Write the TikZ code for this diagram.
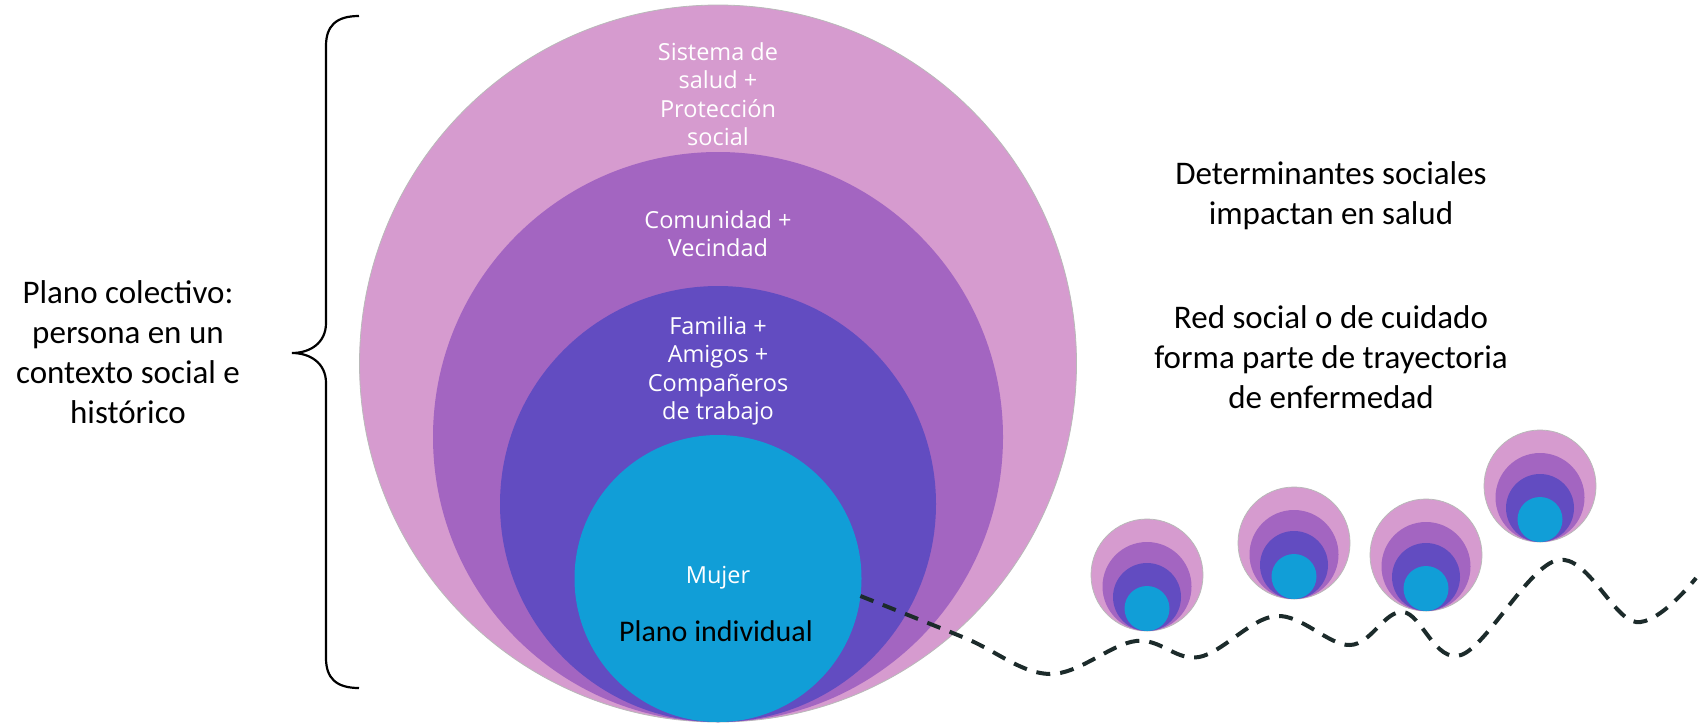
\documentclass[tikz,border=0pt]{standalone}
\usepackage{fontspec}
\setmainfont{Carlito}
\newfontfamily\circfont{Open Sans}
\definecolor{pinkA}{RGB}{214,155,207}
\definecolor{purpleB}{RGB}{163,101,193}
\definecolor{violetC}{RGB}{98,76,193}
\definecolor{cyanD}{RGB}{17,158,215}
\definecolor{dashcol}{RGB}{28,43,43}
\begin{document}
\begin{tikzpicture}[x=1pt,y=-1pt,
  ring/.style={circle, inner sep=0pt, outer sep=0pt},
  rim/.style={draw=gray!55, line width=0.8pt},
  wtext/.style={text=white, font=\circfont\fontsize{23.5}{28.5}\selectfont, align=center, inner sep=0pt},
  btext/.style={text=black, font=\fontsize{33}{40}\selectfont, align=center, inner sep=0pt},
  dashline/.style={draw=dashcol, line width=4pt, dash pattern=on 14pt off 10pt},
  bracestyle/.style={draw=black, line width=2.2pt},
  minnest/.pic={
    \node[ring, rim, fill=pinkA, minimum size=112pt] (-a) at (0,-56) {};
    \node[ring, fill=purpleB, minimum size=89pt] (-b) at (0,-44.5) {};
    \node[ring, fill=violetC, minimum size=68pt] (-c) at (0,-34) {};
    \node[ring, fill=cyanD, minimum size=45pt] (-d) at (0,-22.5) {};
  }]
\useasboundingbox (0,0) rectangle (1705,724);

% main nested circles
\node[ring, rim, fill=pinkA, minimum size=717pt] (outer) at (718,363.5) {};
\node[ring, fill=purpleB, minimum size=570pt] (comm) at (718,437) {};
\node[ring, fill=violetC, minimum size=436pt] (fam) at (718,504) {};
\node[ring, fill=cyanD, minimum size=287pt] (cyan) at (718,578.5) {};

% texts in circles
\node[wtext] (tsis) at (718,94) {Sistema de\\salud +\\Protección\\social};
\node[wtext] (tcom) at (718,233.5) {Comunidad +\\Vecindad};
\node[wtext] (tfam) at (718,371) {Familia +\\Amigos +\\Compañeros\\de trabajo};
\node[wtext] (tmuj) at (718,578) {Mujer};
\node[btext, font=\fontsize{30}{36}\selectfont] (tind) at (716,631) {Plano individual};

% brace
\draw[bracestyle] (359,16) .. controls (336,16) and (326,26) .. (326,46)
  -- (326,323) .. controls (326,343) and (310,353) .. (292,353)
  .. controls (310,353) and (326,363) .. (326,383)
  -- (326,658) .. controls (326,678) and (336,688) .. (359,688);

% left and right texts
\node[btext] (tcol) at (128,352) {Plano colectivo:\\persona en un\\contexto social e\\histórico};
\node[btext] (tdet) at (1331,196) {Determinantes sociales\\impactan en salud};
\node[btext] (tred) at (1331,357) {Red social o de cuidado\\forma parte de trayectoria\\de enfermedad};

% small nested circles
\pic (n1) at (1147,631) {minnest};
\pic (n2) at (1294,599) {minnest};
\pic (n3) at (1426,611) {minnest};
\pic (n4) at (1540,542) {minnest};

% dashed trajectory
\coordinate (w0) at (965,638);
\coordinate (w1) at (1050,674);
\coordinate (w2) at (1136,641);
\coordinate (w3) at (1199,657);
\coordinate (w4) at (1276,616);
\coordinate (w5) at (1350,645);
\coordinate (w6) at (1403,612);
\coordinate (w7) at (1461,655);
\coordinate (w8) at (1558,560);
\coordinate (w9) at (1636,622);
\coordinate (w10) at (1696,578);
\draw[dashline] plot[smooth, tension=0.6] coordinates {(cyan.-7.5) (w0) (w1) (w2) (w3) (w4) (w5) (w6) (w7) (w8) (w9) (w10)};
\end{tikzpicture}
\end{document}
